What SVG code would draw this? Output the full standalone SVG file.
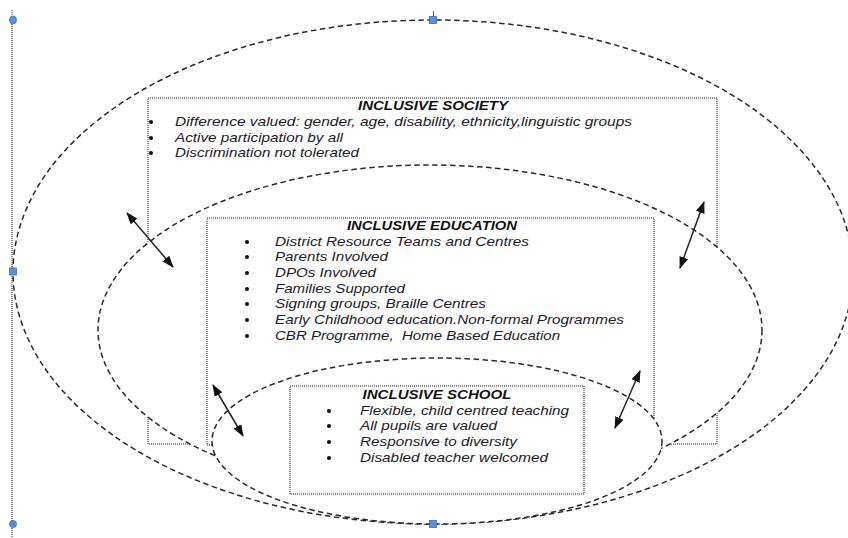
<svg xmlns="http://www.w3.org/2000/svg" width="848" height="538" viewBox="0 0 848 538">
  <defs>
    <marker id="head" viewBox="0 0 12 10" refX="11" refY="5" markerWidth="12" markerHeight="10" markerUnits="userSpaceOnUse" orient="auto-start-reverse">
      <path d="M0,0.5 L12,5 L0,9.5 Z" fill="#111"/>
    </marker>
  </defs>
  <style>
    .ring { fill: #fff; stroke: #2a2a2a; stroke-width: 1.5; stroke-dasharray: 5.5 3.5; }
    .box { fill: none; stroke: #222; stroke-width: 1; stroke-dasharray: 1 1; }
    .boxw { fill: #fff; stroke: #222; stroke-width: 1; stroke-dasharray: 1 1; }
    .title { font-family: "Liberation Sans", Arial, sans-serif; font-size: 13px; font-weight: bold; font-style: italic; fill: #111; text-anchor: middle; }
    .item { font-family: "Liberation Sans", Arial, sans-serif; font-size: 13px; font-style: italic; fill: #1a1a2a; }
    .dot { fill: #111; }
    .link { stroke: #222; stroke-width: 1.5; fill: none; marker-start: url(#head); marker-end: url(#head); }
    .handle { fill: #5b8fdb; stroke: #3a6cb8; stroke-width: 0.8; }
  </style>

  <!-- selection guide on the left -->
  <line x1="12" y1="10" x2="12" y2="538" stroke="#222" stroke-width="1" stroke-dasharray="1 1"/>

  <!-- outer ring: society -->
  <g id="society">
    <ellipse class="ring" cx="433" cy="272" rx="420" ry="252"/>
    <rect class="box" x="148" y="98" width="569" height="346"/>
    <text class="title" x="433" y="110" textLength="150" lengthAdjust="spacingAndGlyphs">INCLUSIVE SOCIETY</text>
    <g class="dot">
      <circle cx="151" cy="122" r="2"/>
      <circle cx="151" cy="138" r="2"/>
      <circle cx="151" cy="153" r="2"/>
    </g>
    <text class="item" x="175" y="126" textLength="457" lengthAdjust="spacingAndGlyphs">Difference valued: gender, age, disability, ethnicity,linguistic groups</text>
    <text class="item" x="175" y="142" textLength="168" lengthAdjust="spacingAndGlyphs">Active participation by all</text>
    <text class="item" x="175" y="157" textLength="184" lengthAdjust="spacingAndGlyphs">Discrimination not tolerated</text>
  </g>

  <!-- middle ring: education -->
  <g id="education">
    <ellipse class="ring" cx="430" cy="330" rx="332" ry="165"/>
    <rect class="box" x="207" y="218" width="447" height="227"/>
    <text class="title" x="432" y="230" textLength="170" lengthAdjust="spacingAndGlyphs">INCLUSIVE EDUCATION</text>
    <g class="dot">
      <circle cx="247" cy="242" r="2"/>
      <circle cx="247" cy="257" r="2"/>
      <circle cx="247" cy="273" r="2"/>
      <circle cx="247" cy="289" r="2"/>
      <circle cx="247" cy="304" r="2"/>
      <circle cx="247" cy="320" r="2"/>
      <circle cx="247" cy="336" r="2"/>
    </g>
    <text class="item" x="275" y="246" textLength="254" lengthAdjust="spacingAndGlyphs">District Resource Teams and Centres</text>
    <text class="item" x="275" y="261" textLength="113" lengthAdjust="spacingAndGlyphs">Parents Involved</text>
    <text class="item" x="275" y="277" textLength="101" lengthAdjust="spacingAndGlyphs">DPOs Involved</text>
    <text class="item" x="275" y="293" textLength="130" lengthAdjust="spacingAndGlyphs">Families Supported</text>
    <text class="item" x="275" y="308" textLength="211" lengthAdjust="spacingAndGlyphs">Signing groups, Braille Centres</text>
    <text class="item" x="275" y="324" textLength="349" lengthAdjust="spacingAndGlyphs">Early Childhood education.Non-formal Programmes</text>
    <text class="item" x="275" y="340" textLength="285" lengthAdjust="spacingAndGlyphs" xml:space="preserve">CBR Programme,  Home Based Education</text>
  </g>

  <!-- inner ring: school -->
  <g id="school">
    <ellipse class="ring" cx="437" cy="441" rx="225" ry="83"/>
    <rect class="boxw" x="290" y="386" width="294" height="108"/>
    <text class="title" x="437" y="399" textLength="149" lengthAdjust="spacingAndGlyphs">INCLUSIVE SCHOOL</text>
    <g class="dot">
      <circle cx="329" cy="411" r="2"/>
      <circle cx="329" cy="426" r="2"/>
      <circle cx="329" cy="442" r="2"/>
      <circle cx="329" cy="458" r="2"/>
    </g>
    <text class="item" x="360" y="415" textLength="209" lengthAdjust="spacingAndGlyphs">Flexible, child centred teaching</text>
    <text class="item" x="360" y="430" textLength="137" lengthAdjust="spacingAndGlyphs">All pupils are valued</text>
    <text class="item" x="360" y="446" textLength="157" lengthAdjust="spacingAndGlyphs">Responsive to diversity</text>
    <text class="item" x="360" y="462" textLength="188" lengthAdjust="spacingAndGlyphs">Disabled teacher welcomed</text>
  </g>

  <!-- two-way links between the rings -->
  <g id="connectors">
    <line class="link" x1="127" y1="213" x2="173" y2="267"/>
    <line class="link" x1="704" y1="202" x2="680" y2="268"/>
    <line class="link" x1="213" y1="385" x2="243" y2="436"/>
    <line class="link" x1="640" y1="371" x2="615" y2="428"/>
  </g>

  <!-- shape handles -->
  <g id="handles">
    <line x1="433.5" y1="11" x2="433.5" y2="17" stroke="#3a6cb8" stroke-width="1"/>
    <rect class="handle" x="429.5" y="16.5" width="7" height="7"/>
    <rect class="handle" x="9.5" y="268" width="7" height="7"/>
    <rect class="handle" x="429.5" y="520.5" width="7" height="7"/>
    <ellipse class="handle" cx="13" cy="20" rx="3.5" ry="4"/>
    <ellipse class="handle" cx="13" cy="524" rx="3.5" ry="3.5"/>
  </g>
</svg>
